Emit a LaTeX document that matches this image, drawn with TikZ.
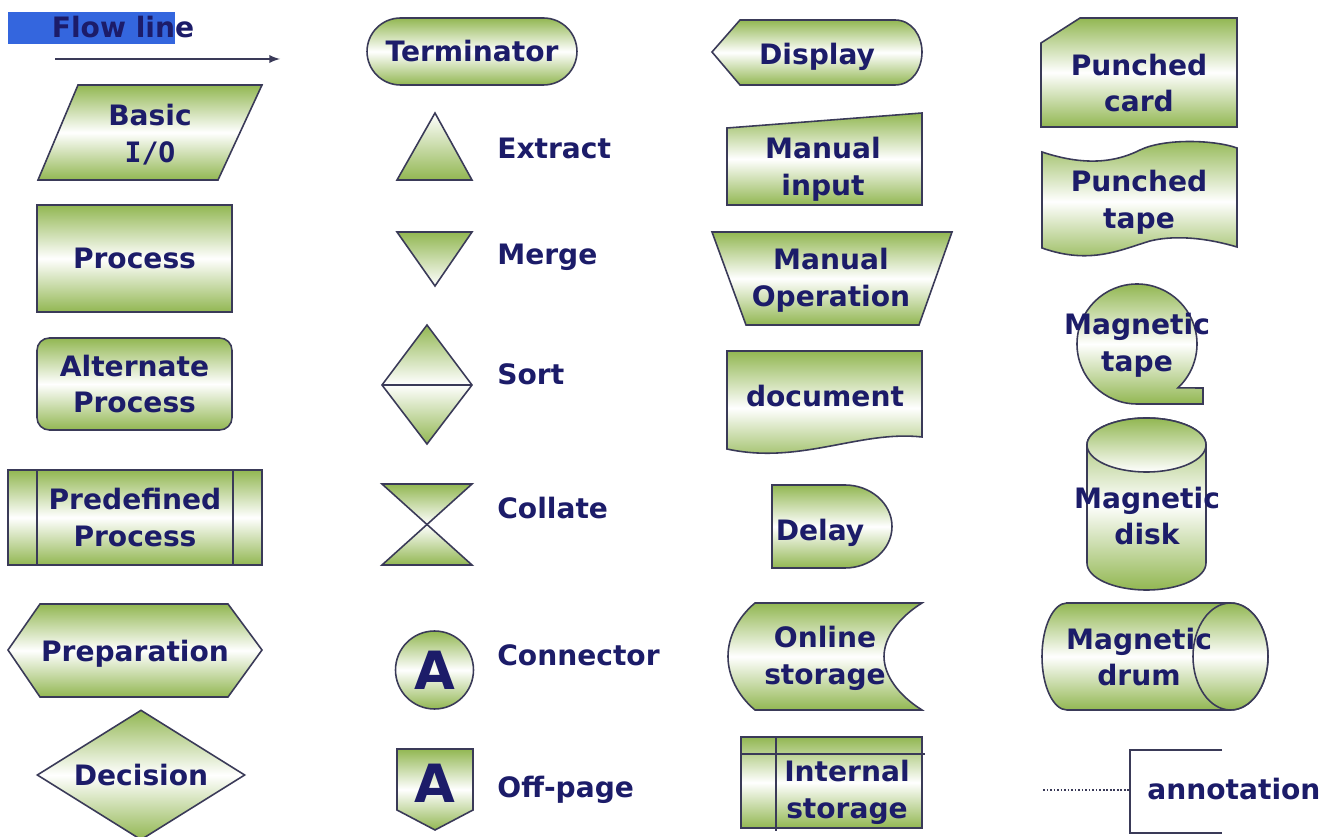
\documentclass[tikz,border=0pt]{standalone}
\usepackage{fontspec}
\setmainfont{DejaVu Sans}
\setmonofont{DejaVu Sans Mono}
\usetikzlibrary{positioning, shapes.geometric, shapes.misc, arrows}
\definecolor{symgreen}{RGB}{146,183,82}
\definecolor{symline}{RGB}{58,58,88}
\definecolor{symnavy}{RGB}{28,28,105}
\definecolor{hilite}{RGB}{52,102,222}
\tikzstyle{symbol}     = [draw=symline, line width=0.9pt, top color=symgreen, bottom color=symgreen, middle color=white]
\tikzstyle{symbolup}   = [draw=symline, line width=0.9pt, top color=white, bottom color=symgreen]
\tikzstyle{symboldown} = [draw=symline, line width=0.9pt, top color=symgreen, bottom color=white]
\tikzstyle{edge}       = [draw=symline, line width=0.9pt]
\tikzstyle{symtext}    = [text=symnavy, font=\bfseries\fontsize{16}{21}\selectfont, align=center, inner sep=0pt]
\tikzstyle{sidetext}   = [symtext, anchor=west]
\tikzstyle{bigA}       = [text=symnavy, font=\bfseries\fontsize{30}{30}\selectfont, inner sep=0pt]
\tikzstyle{process}    = [rectangle, symbol, symtext, minimum width=3.9cm, minimum height=2.14cm]
\tikzstyle{altprocess} = [rectangle, rounded corners=7pt, symbol, symtext, minimum width=3.9cm, minimum height=1.84cm]
\tikzstyle{predefined} = [rectangle, symbol, symtext, minimum width=5.08cm, minimum height=1.9cm]
\tikzstyle{decision}   = [diamond, aspect=1.6, symbol, symtext, minimum width=4.16cm, minimum height=2.6cm]
\tikzstyle{terminator} = [rounded rectangle, symbol, symtext, minimum width=4.2cm, minimum height=1.34cm]
\tikzstyle{connector}  = [circle, symbol, bigA, minimum size=1.56cm]
\tikzstyle{storage}    = [rectangle, symbol, minimum width=3.62cm, minimum height=1.82cm, inner sep=0pt]
\tikzstyle{flowarrow}  = [-latex, draw=symline, line width=1.1pt]
\tikzstyle{dotline}    = [draw=symline, line width=0.8pt, dash pattern=on 1pt off 1pt]

\begin{document}
\begin{tikzpicture}[x=0.02cm, y=-0.02cm]
    \fill[white] (0,0) rectangle (1333,837);
    \useasboundingbox (0,0) rectangle (1333,837);

    % first column
    \fill[hilite] (8,12) rectangle (175,44);
    \node[symtext] (flow) at (123,27) {Flow line};
    \coordinate (flowstart) at (55,59);
    \coordinate (flowend)   at (280,59);
    \draw[flowarrow] (flowstart) -- (flowend);

    \path[symbol] (78,85) -- (262,85) -- (218,180) -- (38,180) -- cycle;
    \node[symtext] (basicio) at (150,135) {Basic\\\texttt{I/O}};

    \node[process]    (process)  at (134.5,258.5) {Process};
    \node[altprocess] (altproc)  at (134.5,384)   {Alternate\\Process};
    \node[predefined] (predef)   at (135,517.5)   {Predefined\\Process};
    \draw[edge] ([xshift=0.6cm]predef.north west) -- ([xshift=0.6cm]predef.south west);
    \draw[edge] ([xshift=-0.6cm]predef.north east) -- ([xshift=-0.6cm]predef.south east);

    \path[symbol] (8,650) -- (40,604) -- (228,604) -- (262,650) -- (228,697) -- (40,697) -- cycle;
    \node[symtext] (prep) at (135,654) {Preparation};

    \node[decision] (decision) at (141,775) {Decision};

    % second column
    \node[terminator] (term) at (472,51.5) {Terminator};

    \path[symbolup] (435,113) -- (472,180) -- (397,180) -- cycle;
    \node[sidetext] (extract) at (497,148) {Extract};

    \path[symboldown] (397,232) -- (472,232) -- (435,286) -- cycle;
    \node[sidetext] (merge) at (497,257) {Merge};

    \path[symbol] (427,325) -- (472,385) -- (427,444) -- (382,385) -- cycle;
    \draw[edge] (382,385) -- (472,385);
    \node[sidetext] (sort) at (497,374) {Sort};

    \path[symbol] (382,484) -- (472,484) -- (382,565) -- (472,565) -- cycle;
    \node[sidetext] (collate) at (497,508) {Collate};

    \node[connector] (conn) at (434.5,670) {A};
    \node[sidetext] (connlbl) at (497,655) {Connector};

    \path[symbol] (397,749) -- (473,749) -- (473,810) -- (435,830) -- (397,810) -- cycle;
    \node[bigA] (offA) at (435,783) {A};
    \node[sidetext] (offpage) at (497,790) {Off-page};

    % third column
    \path[symbol] (712,52) -- (740,20) -- (895,20) .. controls (912,20) and (922,36) .. (922,52)
        .. controls (922,69) and (912,85) .. (895,85) -- (740,85) -- cycle;
    \node[symtext] (display) at (817,57) {Display};

    \path[symbol] (727,128) -- (922,113) -- (922,205) -- (727,205) -- cycle;
    \node[symtext] (maninput) at (823,169) {Manual\\input};

    \path[symbol] (712,232) -- (952,232) -- (919,325) -- (746,325) -- cycle;
    \node[symtext] (manop) at (831,280) {Manual\\Operation};

    \path[symbol] (727,351) -- (922,351) -- (922,437) .. controls (860,430) and (800,465) .. (727,449) -- cycle;
    \node[symtext] (doc) at (825,396) {document};

    \path[symbol] (772,485) -- (845,485) .. controls (870,485) and (892,503) .. (892,526.5)
        .. controls (892,550) and (870,568) .. (845,568) -- (772,568) -- cycle;
    \node[symtext] (delay) at (820,533) {Delay};

    \path[symbol] (755,603) -- (922,603) .. controls (898,618) and (884,638) .. (884,656.5)
        .. controls (884,675) and (898,695) .. (922,710) -- (755,710)
        .. controls (737,695) and (728,675) .. (728,656.5) .. controls (728,638) and (737,618) .. (755,603) -- cycle;
    \node[symtext] (online) at (825,658) {Online\\storage};

    \node[storage] (intstore) at (831.5,782.5) {};
    \draw[edge] ([yshift=-0.36cm]intstore.north west) -- ([yshift=-0.36cm, xshift=0.04cm]intstore.north east);
    \draw[edge] ([xshift=0.72cm]intstore.north west) -- ([xshift=0.72cm, yshift=-0.04cm]intstore.south west);
    \node[symtext] (intlbl) at (847,792) {Internal\\storage};

    % fourth column
    \path[symbol] (1041,43) -- (1080,18) -- (1237,18) -- (1237,127) -- (1041,127) -- cycle;
    \node[symtext] (pcard) at (1139,83) {Punched\\card};

    \path[symbol] (1042,152) .. controls (1090,168) and (1120,160) .. (1140,150)
        .. controls (1165,138) and (1215,140) .. (1237,148) -- (1237,247)
        .. controls (1200,236) and (1170,236) .. (1150,241) .. controls (1120,250) and (1090,265) .. (1042,248) -- cycle;
    \node[symtext] (ptape) at (1139,202) {Punched\\tape};

    \path[symbol] (1137,404) arc[start angle=90, end angle=407, radius=60] -- (1203,388) -- (1203,404) -- cycle;
    \node[symtext] (mtape) at (1137,345) {Magnetic\\tape};

    \path[symbol] (1087,445) -- (1087,563) arc[start angle=180, end angle=0, x radius=59.5, y radius=27]
        -- (1206,445) arc[start angle=0, end angle=-180, x radius=59.5, y radius=27] -- cycle;
    \path[symboldown] (1146.5,445) ellipse[x radius=59.5, y radius=27];
    \node[symtext] (mdisk) at (1147,516) {Magnetic\\disk};

    \path[symbol] (1067,603) -- (1230.5,603) arc[start angle=-90, end angle=90, x radius=37.5, y radius=53.5]
        -- (1067,710) arc[start angle=90, end angle=270, x radius=25, y radius=53.5] -- cycle;
    \path[symbol] (1230.5,656.5) ellipse[x radius=37.5, y radius=53.5];
    \node[symtext] (mdrum) at (1139,657) {Magnetic\\drum};

    \draw[edge] (1222,750) -- (1130,750) -- (1130,833) -- (1222,833);
    \coordinate (annofree) at (1043,790);
    \coordinate (annobar)  at (1130,790);
    \draw[dotline] (annofree) -- (annobar);
    \node[sidetext] (anno) at (1147,789) {annotation};
\end{tikzpicture}
\end{document}
